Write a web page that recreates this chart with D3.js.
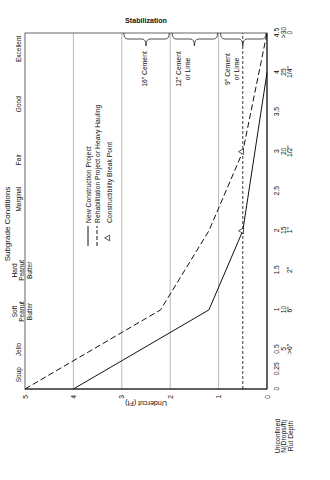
<!DOCTYPE html>
<html>
<head>
<meta charset="utf-8">
<script src="https://cdn.jsdelivr.net/npm/d3@7/dist/d3.min.js"></script>
<style>
  html, body { margin: 0; padding: 0; background: #fff; }
  svg { display: block; font-family: "Liberation Sans", Arial, sans-serif; }
</style>
</head>
<body>
<div id="chart"></div>
<script>
// ---------- data ----------
const unconfinedTicks = [0, 0.25, 0.5, 1, 1.5, 2, 2.5, 3, 3.5, 4, 4.5];
const dropsTicks = [0.5, 1, 2, 3, 4, 4.5];
const dropsLabels = ["5", "10", "15", "20", "25", ">30"];
const rutTicks = [0.5, 1, 1.5, 2, 3, 4, 4.5];
const rutLabels = ['>6"', '6"', '2"', '1"', '1/2"', '1/4"', '0'];
const undercutTicks = [0, 1, 2, 3, 4, 5];

const newConstructionX = [0, 1, 2, 4];
const newConstructionY = [4, 1.2, 0.5, 0];
const rehabX = [0, 1, 2, 3, 4.5];
const rehabY = [5, 2.2, 1.2, 0.5, 0];
const breakPointX = [2, 3];
const breakPointY = [0.5, 0.5];
const noTreatmentLevel = 0.5;

const subgradeNames = [["Soup"], ["Jello"], ["Soft", "Peanut", "Butter"], ["Hard", "Peanut", "Butter"], ["Marginal"], ["Fair"], ["Good"], ["Excellent"]];
const subgradeAt = [0.18, 0.5, 0.98, 1.5, 2.4, 2.9, 3.6, 4.3];

const bandLabels = [['16" Cement'], ['12" Cement', 'or Lime'], ['9" Cement', 'or Lime']];
const bandFrom = [3, 2, 1];
const bandTo = [2, 1, 0];

const legendLabels = ["New Construction Project", "Rehabilitation Project or Heavy Hauling", "Constructibility Break Point"];

// ---------- drawing ----------
const W = 330, H = 480;
const svg = d3.select("#chart").append("svg").attr("width", W).attr("height", H);
svg.append("rect").attr("width", W).attr("height", H).attr("fill", "#fff");

// the whole chart is drawn upright and rotated a quarter turn
const g = svg.append("g").attr("transform", `translate(0,${H}) rotate(-90)`);

const x = d3.scaleLinear().domain([0, 4.5]).range([91, 447]);
const y = d3.scaleLinear().domain([0, 5]).range([267, 25]);
const FS = 6.8;

// grid lines
g.append("g").selectAll("line").data([1, 2, 3, 4]).join("line")
  .attr("x1", x(0)).attr("x2", x(4.5))
  .attr("y1", d => y(d)).attr("y2", d => y(d))
  .attr("stroke", "#a8a8a8").attr("stroke-width", 0.8);

// frame
g.append("rect").attr("x", x(0)).attr("y", y(5))
  .attr("width", x(4.5) - x(0)).attr("height", y(0) - y(5))
  .attr("fill", "none").attr("stroke", "#555").attr("stroke-width", 0.9);
g.append("line").attr("x1", x(0)).attr("x2", x(4.5)).attr("y1", y(0)).attr("y2", y(0))
  .attr("stroke", "#111").attr("stroke-width", 1);
g.append("line").attr("x1", x(0)).attr("x2", x(0)).attr("y1", y(0)).attr("y2", y(5))
  .attr("stroke", "#111").attr("stroke-width", 1);

// no treatment line
g.append("line").attr("x1", x(0)).attr("x2", x(4.5))
  .attr("y1", y(noTreatmentLevel)).attr("y2", y(noTreatmentLevel))
  .attr("stroke", "#222").attr("stroke-width", 0.9).attr("stroke-dasharray", "3,2");

// braces for stabilization bands
bandFrom.forEach((f, i) => {
  const v1 = y(f) + 2, v2 = y(bandTo[i]) - 1, m = (y(f) + y(bandTo[i])) / 2;
  const uo = x(4.5), ui = uo - 6, ut = uo - 13;
  const p = `M${uo},${v1} Q${ui},${v1} ${ui},${v1 + 4} L${ui},${m - 4} Q${ui},${m} ${ut},${m} Q${ui},${m} ${ui},${m + 4} L${ui},${v2 - 4} Q${ui},${v2} ${uo},${v2}`;
  g.append("path").attr("d", p).attr("fill", "none").attr("stroke", "#222").attr("stroke-width", 0.8);
  const lines = bandLabels[i];
  lines.forEach((t, j) => {
    const off = lines.length === 1 ? 0.5 : (j === 0 ? -13 : -4);
    g.append("text").attr("x", 411).attr("y", m + off)
      .attr("text-anchor", "middle").attr("font-size", FS).attr("fill", "#111").text(t);
  });
});

// data lines
const line = d3.line().x(d => x(d[0])).y(d => y(d[1]));
g.append("path").datum(newConstructionX.map((v, i) => [v, newConstructionY[i]]))
  .attr("d", line).attr("fill", "none").attr("stroke", "#111").attr("stroke-width", 1);
g.append("path").datum(rehabX.map((v, i) => [v, rehabY[i]]))
  .attr("d", line).attr("fill", "none").attr("stroke", "#111").attr("stroke-width", 1)
  .attr("stroke-dasharray", "6,3");

const tri = d3.symbol().type(d3.symbolTriangle).size(14);
g.append("g").selectAll("path").data(breakPointX.map((v, i) => [v, breakPointY[i]])).join("path")
  .attr("d", tri).attr("transform", d => `translate(${x(d[0])},${y(d[1]) - 1})`)
  .attr("fill", "#fff").attr("stroke", "#111").attr("stroke-width", 0.7);

// axes
function styleAxis(sel) {
  sel.select(".domain").remove();
  sel.selectAll("text").attr("font-size", FS).attr("fill", "#111").attr("font-family", null);
}
g.append("g").attr("transform", `translate(0,${y(0)})`)
  .call(d3.axisBottom(x).tickValues(unconfinedTicks).tickSize(0).tickPadding(7.5).tickFormat(d => String(d)))
  .call(styleAxis);
g.append("g").attr("transform", `translate(0,${y(0)})`)
  .call(d3.axisBottom(x).tickValues(dropsTicks).tickSize(0).tickPadding(14).tickFormat((d, i) => dropsLabels[i]))
  .call(styleAxis);
g.append("g").attr("transform", `translate(0,${y(0)})`)
  .call(d3.axisBottom(x).tickValues(rutTicks).tickSize(0).tickPadding(20.5).tickFormat((d, i) => rutLabels[i]))
  .call(styleAxis);
g.append("g").attr("transform", `translate(${x(0)},0)`)
  .call(d3.axisLeft(y).tickValues(undercutTicks).tickSize(0).tickPadding(6).tickFormat(d3.format("d")))
  .call(styleAxis);

// axis row titles
["Unconfined", "N(Drops/ft)", "Rut Depth"].forEach((t, i) => {
  g.append("text").attr("x", 44).attr("y", y(0) + 12.5 + i * 6.6)
    .attr("text-anchor", "middle").attr("font-size", FS).attr("fill", "#111").text(t);
});

// undercut title
g.append("text").attr("transform", `translate(79,${(y(0) + y(5)) / 2}) rotate(-90)`)
  .attr("text-anchor", "middle").attr("font-size", FS + 0.3).attr("fill", "#111").text("Undercut (Ft)");

// stabilization title
g.append("text").attr("transform", `translate(457,${(y(0) + y(5)) / 2}) rotate(90)`)
  .attr("text-anchor", "middle").attr("font-size", 7.1).attr("font-weight", "bold").attr("fill", "#111").text("Stabilization");

// subgrade conditions
g.append("text").attr("x", 256).attr("y", 10)
  .attr("text-anchor", "middle").attr("font-size", 8).attr("fill", "#111").text("Subgrade Conditions");
subgradeNames.forEach((lines, i) => {
  lines.forEach((t, j) => {
    const base = lines.length === 1 ? 21 : [16.5, 24, 32][j];
    g.append("text").attr("x", x(subgradeAt[i])).attr("y", base)
      .attr("text-anchor", "middle").attr("font-size", 6.5).attr("fill", "#111").text(t);
  });
});

// legend
const lg = g.append("g");
lg.append("line").attr("x1", 234).attr("x2", 254).attr("y1", 88).attr("y2", 88)
  .attr("stroke", "#111").attr("stroke-width", 1);
lg.append("line").attr("x1", 234).attr("x2", 254).attr("y1", 97).attr("y2", 97)
  .attr("stroke", "#111").attr("stroke-width", 1).attr("stroke-dasharray", "4,2");
lg.append("path").attr("d", tri).attr("transform", "translate(242,108)")
  .attr("fill", "#fff").attr("stroke", "#111").attr("stroke-width", 0.7);
legendLabels.forEach((t, i) => {
  lg.append("text").attr("x", 257).attr("y", [90.5, 99.5, 112][i])
    .attr("font-size", FS).attr("fill", "#111").text(t);
});
</script>
</body>
</html>
